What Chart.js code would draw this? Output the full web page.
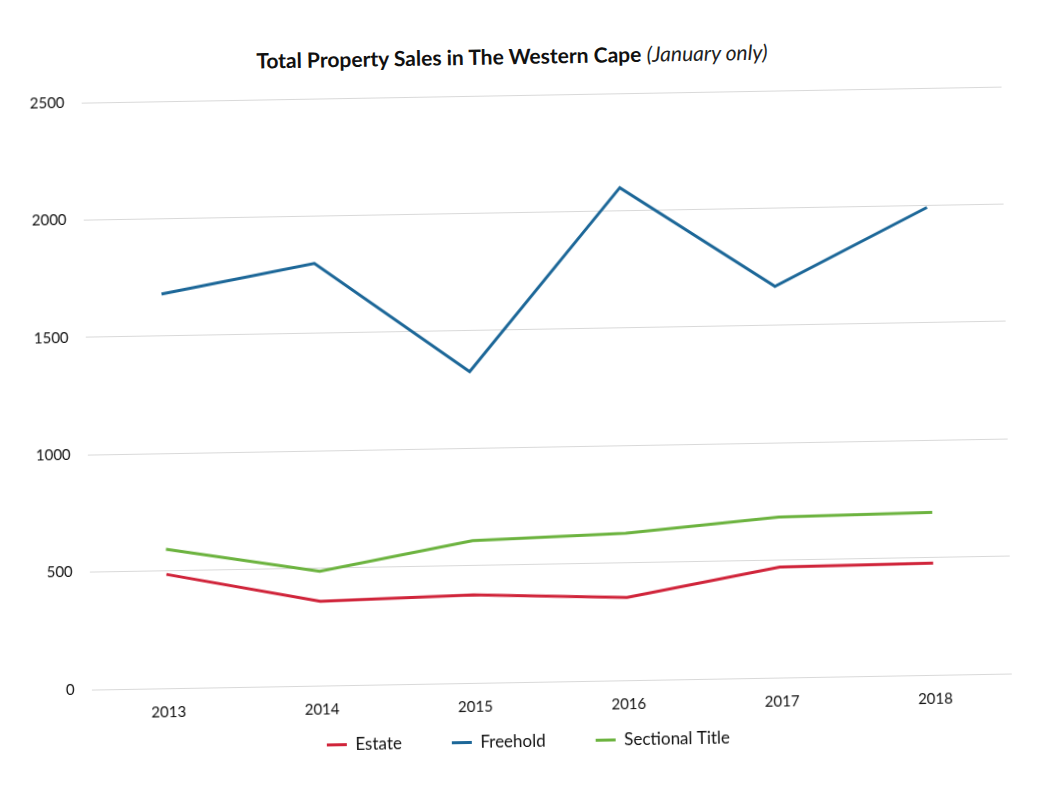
<!DOCTYPE html>
<html>
<head>
<meta charset="utf-8">
<script src="https://cdn.jsdelivr.net/npm/chart.js@4"></script>
<style>
  html, body { margin: 0; padding: 0; background: #ffffff; }
  #wrap { position: relative; width: 1046px; height: 808px; transform: rotate(-1deg); transform-origin: 523px 404px; background: #ffffff; }
  #title { position: absolute; left: 0; width: 1036px; top: 42px; text-align: center; font-family: Lato, "Open Sans", sans-serif; font-size: 21px; line-height: 28px; color: #111; }
  #title b { font-weight: 700; }
  #title i { font-weight: 400; font-style: italic; color: #222; }
  canvas { position: absolute; left: 0; top: 0; }
</style>
</head>
<body>
<div id="wrap">
  <div id="title"><b>Total Property Sales in The Western Cape</b> <i>(January only)</i></div>
  <canvas id="c" width="1046" height="808"></canvas>
</div>
<script>
const categories = ["2013", "2014", "2015", "2016", "2017", "2018"];
const estate = [485, 359, 375, 352, 471, 476];
const freehold = [1679, 1798, 1326, 2098, 1666, 1991];
const sectionalTitle = [592, 487, 606, 626, 684, 692];
const seriesNames = ["Estate", "Freehold", "Sectional Title"];
const yTicks = [0, 500, 1000, 1500, 2000, 2500];

const legendShift = {
  id: 'legendShift',
  afterLayout(chart) {
    const lg = chart.legend;
    if (!lg) return;
    const d = lg.options.labels.padding - 3;
    lg.top -= d;
    lg.bottom -= d;
    lg.left += 10;
    lg.right += 10;
  }
};

new Chart(document.getElementById('c'), {
  type: 'line',
  data: {
    labels: categories,
    datasets: [
      { label: seriesNames[0], data: estate, borderColor: '#d0243a', backgroundColor: '#d0243a', borderWidth: 3, pointRadius: 0, tension: 0 },
      { label: seriesNames[1], data: freehold, borderColor: '#1c6798', backgroundColor: '#1c6798', borderWidth: 3, pointRadius: 0, tension: 0 },
      { label: seriesNames[2], data: sectionalTitle, borderColor: '#6cb33f', backgroundColor: '#6cb33f', borderWidth: 3, pointRadius: 0, tension: 0 }
    ]
  },
  options: {
    responsive: false,
    animation: false,
    layout: { padding: { left: 18, right: 39, top: 95, bottom: 1 } },
    scales: {
      x: {
        offset: true,
        grid: { display: false, drawTicks: false },
        border: { display: false },
        ticks: { padding: 15, color: '#111', font: { family: 'Lato', size: 15 } }
      },
      y: {
        min: 0,
        max: 2500,
        afterBuildTicks(axis) { axis.ticks = yTicks.map(v => ({ value: v })); },
        grid: { color: '#d9d9d9', lineWidth: 1, drawTicks: false },
        border: { display: false },
        ticks: { padding: 17, color: '#111', font: { family: 'Lato', size: 15 }, callback: v => String(v) }
      }
    },
    plugins: {
      title: { display: false },
      tooltip: { enabled: false },
      legend: {
        position: 'bottom',
        labels: {
          usePointStyle: true,
          pointStyle: 'line',
          pointStyleWidth: 20,
          padding: 50,
          color: '#111',
          font: { family: 'Lato', size: 17 }
        }
      }
    }
  },
  plugins: [legendShift]
});
</script>
</body>
</html>
